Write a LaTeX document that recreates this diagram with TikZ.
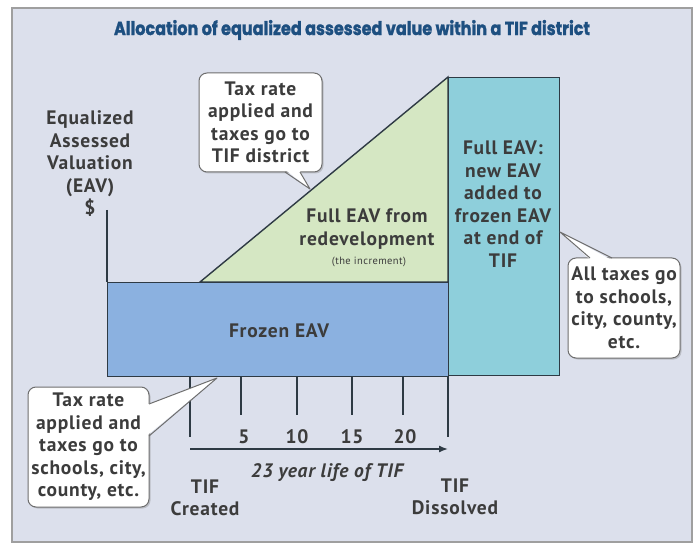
\documentclass[tikz,border=0pt]{standalone}
\usepackage{fontspec}
\setmainfont{PT Sans}[LetterSpace=4]
\newfontfamily\titlefont{Poppins}[BoldFeatures={FakeBold=1.6}]
\usetikzlibrary{arrows.meta,shadows}
\definecolor{bg}{HTML}{DCE0EC}
\definecolor{frozen}{HTML}{8BB1E0}
\definecolor{incr}{HTML}{D5E7C3}
\definecolor{full}{HTML}{8ECFDB}
\definecolor{ink}{HTML}{2E3A44}
\definecolor{txt}{HTML}{3C3C3C}
\definecolor{titleblue}{HTML}{1D4F80}
\definecolor{calloutline}{HTML}{6E6E6E}
\tikzset{
  lbl/.style={font=\bfseries\fontsize{19.5}{22.5}\selectfont, text=txt, align=center, inner sep=0pt},
  shapeline/.style={draw=ink, line width=1.4pt},
  callout/.style={draw=calloutline, fill=white, rounded corners=8pt, line width=1pt,
     drop shadow={shadow xshift=1.5pt, shadow yshift=-1.5pt, opacity=0.35}},
  tailline/.style={draw=calloutline, line width=1pt, line join=round},
  tick/.style={draw=ink, line width=1.4pt},
}
\begin{document}
\begin{tikzpicture}[x=1pt,y=-1pt]
\useasboundingbox (0,0) rectangle (696,545);
\fill[white] (0,0) rectangle (696,545);
\draw[fill=bg, draw=gray!75, line width=1.2pt] (12,8) rectangle (692,542);

% title
\node[text=titleblue, inner sep=0pt] (title) at (352,30)
  {\resizebox{476pt}{15pt}{\titlefont\bfseries Allocation of equalized assessed value within a TIF district}};

% increment triangle
\draw[shapeline, fill=incr] (200,282) -- (448,77) -- (448,282) -- cycle;
% frozen EAV
\node[shapeline, fill=frozen, anchor=north west, minimum width=341pt, minimum height=94pt, inner sep=0pt] (frozen) at (107,282) {};
% full EAV
\node[shapeline, fill=full, anchor=north west, minimum width=111pt, minimum height=298pt, inner sep=0pt] (fullbox) at (448,77) {};

% y axis
\coordinate (axtop) at (107,210);
\draw[tick] (axtop) -- (frozen.north west);

% labels
\node[lbl] (eav) at (90,164) {Equalized\\Assessed\\Valuation\\(EAV)\\\$};
\node[lbl] (frozentxt) at (279,331) {Frozen EAV};
\node[lbl] (incrtxt) at (367,229) {Full EAV from\\redevelopment};
\node[font=\fontsize{10.5}{12}\selectfont, text=txt, inner sep=0pt] (incrsmall) at (369,262) {(the increment)};
\node[lbl] (fulltxt) at (503,204) {Full EAV:\\new EAV\\added to\\frozen EAV\\at end of\\TIF};

% ticks
\draw[tick] (190,376) -- (190,437);
\draw[tick] (241,376) -- (241,415);
\draw[tick] (297,376) -- (297,415);
\draw[tick] (352,376) -- (352,415);
\draw[tick] (403,376) -- (403,415);
\draw[tick] (448,376) -- (448,437);
\node[lbl] (n5) at (244,437) {5};
\node[lbl] (n10) at (297,437) {10};
\node[lbl] (n15) at (352,437) {15};
\node[lbl] (n20) at (405,437) {20};

% time arrow
\coordinate (arrstart) at (190,449);
\coordinate (arrend) at (448,449);
\draw[draw=ink, line width=1.4pt, -{Latex[length=9pt,width=7pt]}] (arrstart) -- (arrend);
\node[lbl, font=\bfseries\itshape\fontsize{19.5}{22.5}\selectfont] (life) at (327,473) {23 year life of TIF};
\node[lbl] (created) at (205,498) {TIF\\Created};
\node[lbl] (dissolved) at (455,497) {TIF\\Dissolved};

% callout 1
\node[callout, lbl, minimum width=123pt, minimum height=99pt] (c1) at (260.5,122.5) {Tax rate\\applied and\\taxes go to\\TIF district};
\coordinate (p1) at (310,189);
\coordinate (t1a) at (285,172);
\coordinate (t1b) at (300,172);
\fill[white] (285.5,170) -- (p1) -- (299.5,170) -- cycle;
\draw[tailline] (t1a) -- (p1) -- (t1b);

% callout 2
\node[callout, lbl, minimum width=112pt, minimum height=100pt] (c2) at (624,308) {All taxes go\\to schools,\\city, county,\\etc.};
\coordinate (p2) at (560,232);
\coordinate (t2a) at (590,258);
\coordinate (t2b) at (612,258);
\fill[white] (590.5,260) -- (p2) -- (611.5,260) -- cycle;
\draw[tailline] (t2a) -- (p2) -- (t2b);

% callout 3
\node[callout, lbl, minimum width=121pt, minimum height=120pt] (c3) at (88.5,447) {Tax rate\\applied and\\taxes go to\\schools, city,\\county, etc.};
\coordinate (p3) at (217,378);
\coordinate (t3a) at (149,404);
\coordinate (t3b) at (149,436);
\fill[white] (147,404.5) -- (p3) -- (147,435.5) -- cycle;
\draw[tailline] (t3a) -- (p3) -- (t3b);
\end{tikzpicture}
\end{document}
